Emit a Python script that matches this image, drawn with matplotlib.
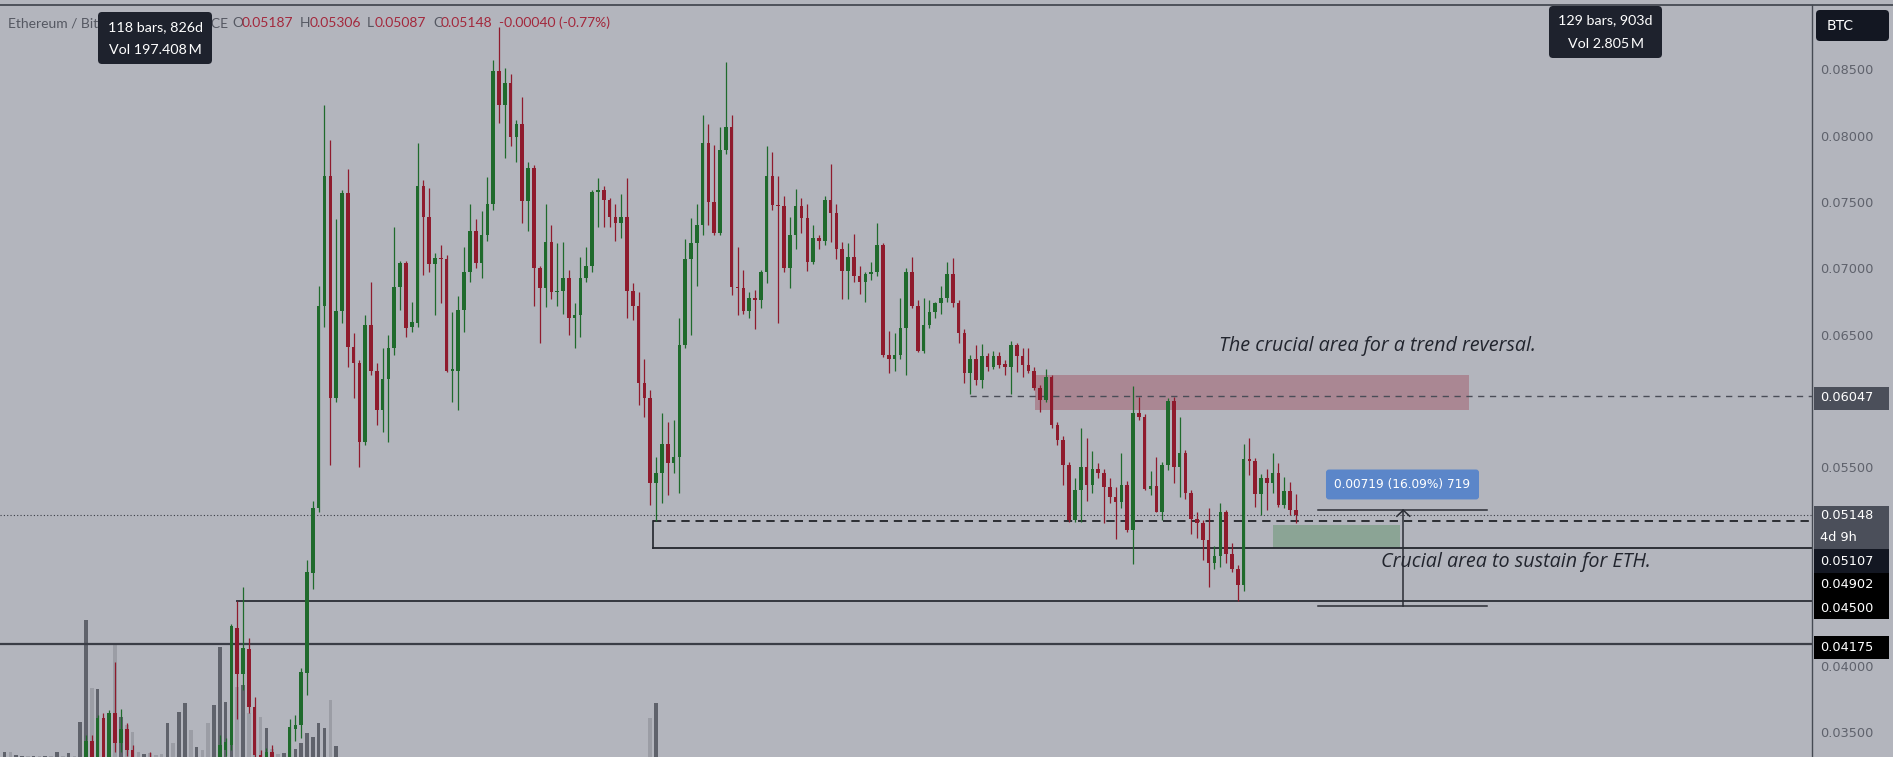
import numpy as np
import matplotlib
matplotlib.use("Agg")
import matplotlib.pyplot as plt
from matplotlib.patches import Rectangle, FancyBboxPatch

# ---------------- data (weekly ETH/BTC) ----------------
first_index = -14

opens = [
    0.0250, 0.0258, 0.0252, 0.0255, 0.0263, 0.0261, 0.0272, 0.0270, 0.0281, 0.0279, 0.0293, 0.0289, 0.0302, 0.0300,
    0.0322, 0.0345, 0.0330, 0.0362, 0.0332, 0.0366, 0.0343, 0.0354, 0.0338, 0.0327,
    0.0320, 0.0326, 0.0312, 0.0303, 0.0296, 0.0307, 0.0299, 0.0314, 0.0322, 0.0309,
    0.0315, 0.0305, 0.0298, 0.0320, 0.0338, 0.0342, 0.0430, 0.0395, 0.0414, 0.0370,
    0.0334, 0.0324, 0.0336, 0.0327, 0.0321, 0.0327, 0.0354, 0.0357, 0.0396, 0.0471,
    0.0520, 0.0673, 0.0771, 0.0603, 0.0669, 0.0758, 0.0642, 0.0630, 0.0570, 0.0658,
    0.0624, 0.0594, 0.0618, 0.0641, 0.0687, 0.0705, 0.0657, 0.0660, 0.0763, 0.0740,
    0.0704, 0.0709, 0.0708, 0.0624, 0.0624, 0.0670, 0.0698, 0.0729, 0.0705, 0.0726,
    0.0750, 0.0850, 0.0824, 0.0841, 0.0800, 0.0810, 0.0752, 0.0777, 0.0701, 0.0686,
    0.0721, 0.0683, 0.0684, 0.0694, 0.0664, 0.0666, 0.0694, 0.0703, 0.0759, 0.0760,
    0.0753, 0.0740, 0.0735, 0.0740, 0.0684, 0.0673, 0.0615, 0.0603, 0.0539, 0.0547,
    0.0569, 0.0554, 0.0559, 0.0643, 0.0708, 0.0720, 0.0734, 0.0796, 0.0751, 0.0728,
    0.0790, 0.0808, 0.0687, 0.0686, 0.0669, 0.0679, 0.0677, 0.0698, 0.0771, 0.0749,
    0.0748, 0.0701, 0.0726, 0.0748, 0.0739, 0.0706, 0.0724, 0.0722, 0.0753, 0.0743,
    0.0716, 0.0699, 0.0710, 0.0695, 0.0691, 0.0697, 0.0698, 0.0719, 0.0636, 0.0633,
    0.0636, 0.0656, 0.0698, 0.0673, 0.0639, 0.0658, 0.0668, 0.0675, 0.0679, 0.0697,
    0.0675, 0.0652, 0.0622, 0.0633, 0.0617, 0.0635, 0.0627, 0.0635, 0.0629, 0.0627,
    0.0643, 0.0635, 0.0628, 0.0624, 0.0611, 0.0602, 0.0619, 0.0583, 0.0572, 0.0553,
    0.0511, 0.0534, 0.0551, 0.0538, 0.0550, 0.0547, 0.0536, 0.0529, 0.0525, 0.0538,
    0.0504, 0.0592, 0.0589, 0.0535, 0.0537, 0.0517, 0.0553, 0.0601, 0.0551, 0.0562,
    0.0532, 0.0512, 0.0509, 0.0496, 0.0479, 0.0484, 0.0517, 0.0486, 0.0474, 0.0462,
    0.0557, 0.0556, 0.0531, 0.0543, 0.0539, 0.0547, 0.0523, 0.0533, 0.05187,
]

highs = [
    0.0262, 0.0263, 0.0259, 0.0266, 0.0270, 0.0275, 0.0280, 0.0284, 0.0290, 0.0296, 0.0301, 0.0305, 0.0312, 0.0326,
    0.0349, 0.0349, 0.0364, 0.0366, 0.0368, 0.0404, 0.0369, 0.0358, 0.0342, 0.0332,
    0.0330, 0.0336, 0.0318, 0.0310, 0.0312, 0.0311, 0.0318, 0.0327, 0.0325, 0.0320,
    0.0318, 0.0315, 0.0325, 0.0349, 0.0347, 0.0433, 0.0450, 0.0461, 0.0422, 0.0378,
    0.0338, 0.0339, 0.0342, 0.0331, 0.0331, 0.0361, 0.0364, 0.0400, 0.0481, 0.0526,
    0.0688, 0.0824, 0.0798, 0.0738, 0.0760, 0.0776, 0.0652, 0.0632, 0.0666, 0.0691,
    0.0630, 0.0641, 0.0651, 0.0732, 0.0707, 0.0707, 0.0676, 0.0796, 0.0768, 0.0762,
    0.0713, 0.0719, 0.0711, 0.0668, 0.0680, 0.0717, 0.0750, 0.0738, 0.0744, 0.0770,
    0.0858, 0.0883, 0.0852, 0.0848, 0.0813, 0.0830, 0.0781, 0.0779, 0.0703, 0.0750,
    0.0734, 0.0720, 0.0721, 0.0700, 0.0675, 0.0710, 0.0717, 0.0760, 0.0769, 0.0763,
    0.0754, 0.0750, 0.0757, 0.0769, 0.0690, 0.0683, 0.0633, 0.0609, 0.0559, 0.0592,
    0.0585, 0.0587, 0.0664, 0.0723, 0.0739, 0.0750, 0.0817, 0.0810, 0.0794, 0.0808,
    0.0857, 0.0817, 0.0717, 0.0700, 0.0683, 0.0685, 0.0700, 0.0793, 0.0789, 0.0771,
    0.0756, 0.0740, 0.0761, 0.0754, 0.0750, 0.0734, 0.0726, 0.0756, 0.0780, 0.0750,
    0.0721, 0.0720, 0.0727, 0.0703, 0.0698, 0.0706, 0.0735, 0.0720, 0.0654, 0.0652,
    0.0679, 0.0701, 0.0710, 0.0677, 0.0679, 0.0677, 0.0676, 0.0688, 0.0706, 0.0709,
    0.0677, 0.0655, 0.0636, 0.0643, 0.0644, 0.0637, 0.0639, 0.0638, 0.0632, 0.0646,
    0.0645, 0.0641, 0.0641, 0.0627, 0.0613, 0.0625, 0.0621, 0.0585, 0.0575, 0.0555,
    0.0543, 0.0581, 0.0573, 0.0563, 0.0554, 0.0550, 0.0543, 0.0536, 0.0562, 0.0541,
    0.0612, 0.0604, 0.0591, 0.0548, 0.0559, 0.0555, 0.0603, 0.0604, 0.0589, 0.0564,
    0.0534, 0.0517, 0.0511, 0.0520, 0.0492, 0.0524, 0.0519, 0.0494, 0.0477, 0.0569,
    0.0573, 0.0558, 0.0546, 0.0550, 0.0562, 0.0554, 0.0544, 0.0540, 0.05306,
]

lows = [
    0.0245, 0.0248, 0.0247, 0.0251, 0.0258, 0.0259, 0.0266, 0.0268, 0.0276, 0.0277, 0.0285, 0.0287, 0.0296, 0.0298,
    0.0320, 0.0327, 0.0328, 0.0330, 0.0329, 0.0336, 0.0336, 0.0333, 0.0323, 0.0316,
    0.0312, 0.0308, 0.0298, 0.0290, 0.0292, 0.0296, 0.0297, 0.0310, 0.0305, 0.0305,
    0.0300, 0.0292, 0.0295, 0.0318, 0.0333, 0.0338, 0.0361, 0.0383, 0.0366, 0.0330,
    0.0319, 0.0321, 0.0323, 0.0315, 0.0317, 0.0324, 0.0345, 0.0347, 0.0379, 0.0459,
    0.0517, 0.0657, 0.0553, 0.0600, 0.0660, 0.0627, 0.0603, 0.0551, 0.0568, 0.0621,
    0.0583, 0.0578, 0.0570, 0.0636, 0.0670, 0.0649, 0.0653, 0.0657, 0.0696, 0.0698,
    0.0666, 0.0675, 0.0623, 0.0600, 0.0594, 0.0653, 0.0691, 0.0701, 0.0694, 0.0722,
    0.0745, 0.0811, 0.0784, 0.0793, 0.0781, 0.0735, 0.0729, 0.0673, 0.0645, 0.0672,
    0.0678, 0.0673, 0.0667, 0.0651, 0.0641, 0.0649, 0.0691, 0.0698, 0.0732, 0.0732,
    0.0732, 0.0722, 0.0724, 0.0664, 0.0662, 0.0598, 0.0589, 0.0523, 0.05107, 0.0524,
    0.0530, 0.0547, 0.0532, 0.0641, 0.0651, 0.0688, 0.0726, 0.0734, 0.0726, 0.0726,
    0.0787, 0.0681, 0.0666, 0.0667, 0.0664, 0.0655, 0.0671, 0.0690, 0.0745, 0.0660,
    0.0698, 0.0686, 0.0716, 0.0728, 0.0699, 0.0704, 0.0716, 0.0719, 0.0721, 0.0708,
    0.0678, 0.0678, 0.0691, 0.0682, 0.0676, 0.0692, 0.0695, 0.0634, 0.0622, 0.0624,
    0.0633, 0.0621, 0.0671, 0.0638, 0.0637, 0.0656, 0.0664, 0.0667, 0.0676, 0.0672,
    0.0645, 0.0615, 0.0606, 0.0613, 0.0611, 0.0624, 0.0625, 0.0626, 0.0621, 0.0606,
    0.0623, 0.0619, 0.0622, 0.0609, 0.0593, 0.0600, 0.0581, 0.0568, 0.0538, 0.0510,
    0.0510, 0.0510, 0.0526, 0.0532, 0.0543, 0.0509, 0.0524, 0.0497, 0.0520, 0.0502,
    0.0478, 0.0587, 0.0534, 0.0530, 0.0517, 0.0511, 0.0549, 0.0539, 0.0529, 0.0527,
    0.0501, 0.0498, 0.0481, 0.0461, 0.0474, 0.0476, 0.0479, 0.0472, 0.0450, 0.0458,
    0.0545, 0.0521, 0.0515, 0.0519, 0.0532, 0.0521, 0.0520, 0.0515, 0.05087,
]

closes = [
    0.0258, 0.0252, 0.0255, 0.0263, 0.0261, 0.0272, 0.0270, 0.0281, 0.0279, 0.0293, 0.0289, 0.0302, 0.0300, 0.0322,
    0.0345, 0.0330, 0.0362, 0.0332, 0.0366, 0.0343, 0.0354, 0.0338, 0.0327, 0.0320,
    0.0326, 0.0312, 0.0303, 0.0296, 0.0307, 0.0299, 0.0314, 0.0322, 0.0309, 0.0315,
    0.0305, 0.0298, 0.0320, 0.0342, 0.0344, 0.0431, 0.0395, 0.0415, 0.0370, 0.0334,
    0.0324, 0.0336, 0.0327, 0.0321, 0.0327, 0.0355, 0.0357, 0.0397, 0.0472, 0.0520,
    0.0673, 0.0771, 0.0603, 0.0669, 0.0758, 0.0642, 0.0630, 0.0570, 0.0658, 0.0624,
    0.0594, 0.0618, 0.0641, 0.0687, 0.0705, 0.0656, 0.0661, 0.0763, 0.0740, 0.0704,
    0.0709, 0.0708, 0.0624, 0.0625, 0.0670, 0.0698, 0.0729, 0.0705, 0.0726, 0.0750,
    0.0850, 0.0824, 0.0841, 0.0800, 0.0810, 0.0752, 0.0777, 0.0701, 0.0686, 0.0721,
    0.0683, 0.0684, 0.0694, 0.0664, 0.0666, 0.0694, 0.0703, 0.0759, 0.0760, 0.0753,
    0.0740, 0.0735, 0.0740, 0.0684, 0.0673, 0.0615, 0.0603, 0.0539, 0.0547, 0.0569,
    0.0554, 0.0559, 0.0643, 0.0708, 0.0720, 0.0734, 0.0796, 0.0751, 0.0728, 0.0790,
    0.0808, 0.0687, 0.0686, 0.0669, 0.0679, 0.0677, 0.0698, 0.0771, 0.0749, 0.0748,
    0.0701, 0.0726, 0.0748, 0.0739, 0.0706, 0.0724, 0.0722, 0.0753, 0.0743, 0.0716,
    0.0699, 0.0710, 0.0695, 0.0691, 0.0697, 0.0698, 0.0719, 0.0636, 0.0633, 0.0636,
    0.0656, 0.0698, 0.0673, 0.0639, 0.0658, 0.0668, 0.0675, 0.0679, 0.0697, 0.0675,
    0.0652, 0.0622, 0.0633, 0.0617, 0.0635, 0.0627, 0.0635, 0.0628, 0.0627, 0.0643,
    0.0635, 0.0628, 0.0624, 0.0611, 0.0602, 0.0619, 0.0583, 0.0572, 0.0553, 0.0511,
    0.0534, 0.0551, 0.0538, 0.0550, 0.0547, 0.0536, 0.0529, 0.0525, 0.0538, 0.0504,
    0.0592, 0.0589, 0.0535, 0.0537, 0.0517, 0.0553, 0.0601, 0.0551, 0.0562, 0.0532,
    0.0512, 0.0509, 0.0496, 0.0479, 0.0484, 0.0517, 0.0486, 0.0474, 0.0462, 0.0557,
    0.0556, 0.0531, 0.0543, 0.0539, 0.0547, 0.0523, 0.0533, 0.05187, 0.05148,
]

volumes = [
    5, 5, 2, 1, 1, 1, 1, 1, 1, 5, 1, 4, 1, 35,
    137, 69, 68, 20, 30, 114, 40, 32, 25, 5,
    3, 4, 2, 3, 34, 14, 45, 54, 27, 10,
    7, 34, 52, 110, 55, 59, 70, 72, 44, 20,
    40, 29, 8, 3, 4, 10, 8, 14, 24, 20,
    34, 29, 57, 11, 0, 0, 0, 0, 0, 0,
    0, 0, 0, 0, 0, 0, 0, 0, 0, 0,
    0, 0, 0, 0, 0, 0, 0, 0, 0, 0,
    0, 0, 0, 0, 0, 0, 0, 0, 0, 0,
    0, 0, 0, 0, 0, 0, 0, 0, 0, 0,
    0, 0, 0, 0, 0, 0, 0, 39, 54, 0,
    0, 0, 0, 0, 0, 0, 0, 0, 0, 0,
    0, 0, 0, 0, 0, 0, 0, 0, 0, 0,
    0, 0, 0, 0, 0, 0, 0, 0, 0, 0,
    0, 0, 0, 0, 0, 0, 0, 0, 0, 0,
    0, 0, 0, 0, 0, 0, 0, 0, 0, 0,
    0, 0, 0, 0, 0, 0, 0, 0, 0, 0,
    0, 0, 0, 0, 0, 0, 0, 0, 0, 0,
    0, 0, 0, 0, 0, 0, 0, 0, 0, 0,
    0, 0, 0, 0, 0, 0, 0, 0, 0, 0,
    0, 0, 0, 0, 0, 0, 0, 0, 0, 0,
    0, 0, 0, 0, 0, 0, 0, 0, 0,
]

# price-scale ticks that are visible (others are hidden under the price labels)
tick_prices = [0.035, 0.040, 0.055, 0.065, 0.070, 0.075, 0.080, 0.085]

level_resist = 0.06047
level_current = 0.05148
level_support = 0.05107
level_04902 = 0.04902
level_04500 = 0.04500
level_04175 = 0.04175
red_zone = (0.05942, 0.06206)
green_zone = (0.04902, 0.05075)
measure_low, measure_high = 0.04468, 0.05187
measure_text = "0.00719 (16.09%) 719"

header_symbol = "Ethereum / Bitcoin · 1W · BINANCE"
ohlc_labels = ["O", "H", "L", "C"]
ohlc_values = ["0.05187", "0.05306", "0.05087", "0.05148"]
change_text = "-0.00040 (-0.77%)"
note_top = "The crucial area for a trend reversal."
note_bottom = "Crucial area to sustain for ETH."
tooltip_left = ["118 bars, 826d", "Vol 197.408\u2009M"]
tooltip_right = ["129 bars, 903d", "Vol 2.805\u2009M"]

# ---------------- layout / style ----------------
W, H = 1893, 757
BG = '#b3b5bd'
GREEN = '#1f6a2c'
RED = '#8f1b2d'
VOL_UP = '#5f626b'
VOL_DN = '#9b9da5'
PLOT_R = 1812          # px, right edge of the plot pane
PLOT_T = 5             # px, top edge of the plot pane
X0, S = 86.0, 5.817    # px of bar 0, px per bar
Y_TOP, Y_BOT = 0.089970, 0.033258
PPX = (Y_TOP - Y_BOT) / (H - PLOT_T)   # price per pixel


def bx(px):
    """pixel column -> bar-index coordinate"""
    return (px - X0) / S


fig = plt.figure(figsize=(W / 100, H / 100), dpi=100)
fig.patch.set_facecolor(BG)
rect = [0, 0, PLOT_R / W, (H - PLOT_T) / H]

ax_vol = fig.add_axes(rect)
ax = fig.add_axes(rect)
for a in (ax_vol, ax):
    a.set_xticks([]); a.set_yticks([])
    for sp in a.spines.values():
        sp.set_visible(False)
    a.patch.set_visible(False)
    a.set_xlim(bx(0), bx(PLOT_R))
ax_vol.set_zorder(1)
ax.set_zorder(2)
ax.set_ylim(Y_BOT, Y_TOP)
ax_vol.set_ylim(0, H - PLOT_T)

x = np.arange(first_index, first_index + len(opens))
o = np.array(opens); hi = np.array(highs); lo = np.array(lows); c = np.array(closes)
up = c >= o
col = np.where(up, GREEN, RED)

ax_vol.bar(x, volumes, width=0.62, color=np.where(up, VOL_UP, VOL_DN), linewidth=0)

xl, xr = ax.get_xlim()
# zones (under candles)
ax.add_patch(Rectangle((bx(1035), red_zone[0]), bx(1469) - bx(1035), red_zone[1] - red_zone[0],
                       facecolor='#9a2a40', alpha=0.33, edgecolor='none', zorder=1))
ax.add_patch(Rectangle((bx(1273), green_zone[0]), bx(1400) - bx(1273), green_zone[1] - green_zone[0],
                       facecolor='#2f7d3a', alpha=0.30, edgecolor='none', zorder=1))

# horizontal levels
ax.plot([xl, xr], [level_current] * 2, color='#3a3d46', lw=0.8, ls=(0, (1, 2)), zorder=2)
ax.plot([bx(970), xr], [level_resist] * 2, color='#4a4d57', lw=1.0, ls=(0, (4.5, 4)), zorder=2)
ax.plot([bx(653), xr], [level_support] * 2, color='#15171c', lw=1.2, ls=(0, (5, 3.5)), zorder=2)
ax.plot([bx(653), xr], [level_04902] * 2, color='#22252c', lw=1.3, zorder=2)
ax.plot([bx(653), bx(653)], [level_04902, level_support], color='#22252c', lw=1.2, zorder=2)
ax.plot([25.9, xr], [level_04500] * 2, color='#34373f', lw=1.4, zorder=2)
ax.plot([xl, xr], [level_04175] * 2, color='#3a3d46', lw=1.6, zorder=2)

# candles
ax.vlines(x, lo, hi, colors=col, linewidth=0.9, zorder=3)
body_lo = np.minimum(o, c)
body_h = np.maximum(np.abs(c - o), 1.2 * PPX)
ax.bar(x, body_h, bottom=body_lo, width=0.62, color=col, linewidth=0, zorder=4)

# measurement tool
mx1, mx2, mxa = bx(1318), bx(1487), bx(1403.3)
ax.plot([mx1, mx2], [measure_high] * 2, color='#2a2d35', lw=1.1, zorder=5)
ax.plot([mx1, mx2], [measure_low] * 2, color='#2a2d35', lw=1.1, zorder=5)
ax.plot([mxa, mxa], [measure_low, measure_high], color='#2a2d35', lw=1.1, zorder=5)
ax.plot([mxa - 1.1, mxa, mxa + 1.1], [measure_high - 6 * PPX, measure_high, measure_high - 6 * PPX],
        color='#2a2d35', lw=1.1, zorder=5)
ax.text(bx(1402.5), 0.05381, measure_text, ha='center', va='center', color='white', fontsize=8.7,
        family='DejaVu Sans', zorder=6,
        bbox=dict(boxstyle='round,pad=0.7,rounding_size=0.25', fc='#5b86c9', ec='none'))

# notes
ax.text(bx(1219), 0.06388, note_top, ha='left', va='baseline', color='#22252e', fontsize=14.2,
        family='Open Sans', style='italic', zorder=6)
ax.text(bx(1381), 0.04759, note_bottom, ha='left', va='baseline', color='#22252e', fontsize=14.2,
        family='Open Sans', style='italic', zorder=6)

# ---------------- right price scale ----------------
ax_r = fig.add_axes([PLOT_R / W, 0, (W - PLOT_R) / W, (H - PLOT_T) / H])
ax_r.set_zorder(3)
ax_r.set_xlim(0, W - PLOT_R)
ax_r.set_ylim(Y_BOT, Y_TOP)
ax_r.set_xticks([]); ax_r.set_yticks([])
for sp in ax_r.spines.values():
    sp.set_visible(False)
ax_r.patch.set_visible(False)

for p in tick_prices:
    ax_r.text(8, p, f"{p:.5f}", ha='left', va='center', color='#5f626c', fontsize=9.3,
              family='DejaVu Sans', zorder=1)


def pbox(price, top_px, bot_px, color):
    ax_r.add_patch(Rectangle((2, price - bot_px * PPX), 75, (bot_px - top_px) * PPX,
                             facecolor=color, edgecolor='none', zorder=4))


def plabel(price, dpx, text):
    ax_r.text(8, price - dpx * PPX, text, ha='left', va='center', color='white', fontsize=9.3,
              family='DejaVu Sans', zorder=5)


pbox(level_resist, -9.5, 13.5, '#4b4f5a')
plabel(level_resist, 1.5, f"{level_resist:.5f}")
pbox(level_current, -9.5, 33.5, '#4b4f5a')
plabel(level_current, 0.5, f"{level_current:.5f}")
plabel(level_current, 22.5, "4d 9h")
pbox(level_support, 28, 52, '#131722')
plabel(level_support, 40.5, f"{level_support:.5f}")
pbox(level_04500, -28.3, 17.7, '#000000')
plabel(level_04902, 37, f"{level_04902:.5f}")
plabel(level_04500, 6.7, f"{level_04500:.5f}")
pbox(level_04175, -8.4, 14.6, '#000000')
plabel(level_04175, 3.6, f"{level_04175:.5f}")

# ---------------- UI overlay in pixel coordinates ----------------
ui = fig.add_axes([0, 0, 1, 1])
ui.set_zorder(10)
ui.set_xlim(0, W); ui.set_ylim(H, 0)
ui.axis('off')

ui.plot([0, W], [4.5, 4.5], color='#464a53', lw=1.3)
ui.plot([PLOT_R, PLOT_R], [4.5, H], color='#464a53', lw=1.0)

HF = 10.0
ui.text(8, 23, header_symbol, ha='left', va='center', color='#555862', fontsize=HF, family='Lato', zorder=1)
ox = [232, 300, 367, 433]
for lab, val, px_ in zip(ohlc_labels, ohlc_values, ox):
    ui.text(px_, 23, lab, ha='left', va='center', color='#555862', fontsize=HF, family='Lato', zorder=1)
    ui.text(px_ + (10 if lab in 'OH' else 8), 23, val, ha='left', va='center', color='#a3283c',
            fontsize=HF, family='Lato', zorder=1)
ui.text(499, 23, change_text, ha='left', va='center', color='#a3283c', fontsize=HF, family='Lato', zorder=1)

ui.add_patch(FancyBboxPatch((98, 12), 114, 52, boxstyle='round,pad=0,rounding_size=4',
                            fc='#1e222d', ec='none', zorder=5))
ui.text(155, 27, tooltip_left[0], ha='center', va='center', color='white', fontsize=10.3,
        family='Lato', zorder=6)
ui.text(155, 50, tooltip_left[1], ha='center', va='center', color='white', fontsize=10.3,
        family='Lato', zorder=6)

ui.add_patch(FancyBboxPatch((1549, 6), 113, 52, boxstyle='round,pad=0,rounding_size=4',
                            fc='#1e222d', ec='none', zorder=5))
ui.text(1605.5, 20, tooltip_right[0], ha='center', va='center', color='white', fontsize=10.3,
        family='Lato', zorder=6)
ui.text(1605.5, 44, tooltip_right[1], ha='center', va='center', color='white', fontsize=10.3,
        family='Lato', zorder=6)

ui.add_patch(FancyBboxPatch((1816, 10), 73, 31, boxstyle='round,pad=0,rounding_size=4',
                            fc='#131722', ec='none', zorder=5))
ui.text(1827, 26, "BTC", ha='left', va='center', color='white', fontsize=10, family='DejaVu Sans', zorder=6)

fig.savefig('out.png', dpi=100, facecolor=BG)
